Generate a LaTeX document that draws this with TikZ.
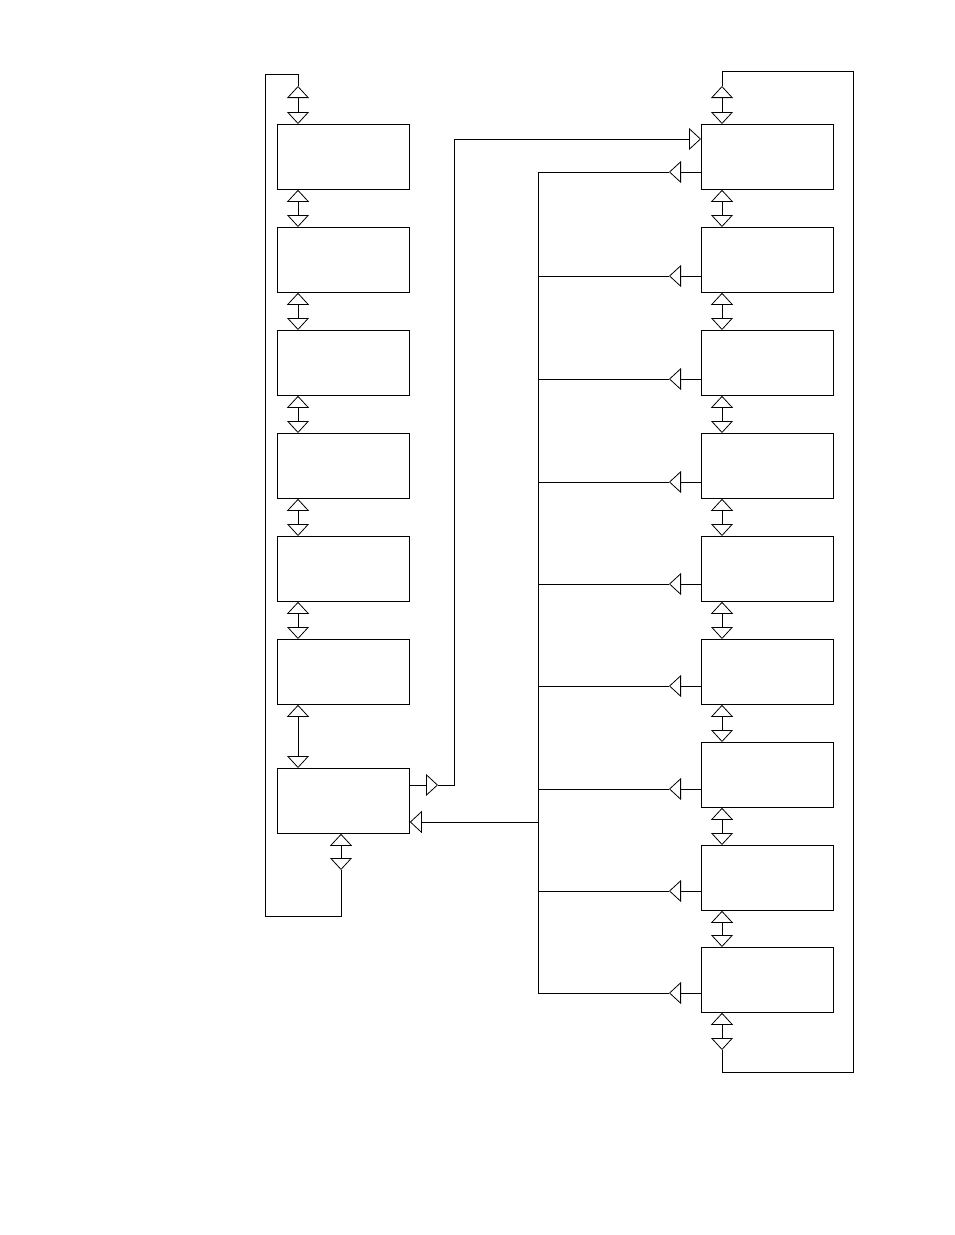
\documentclass[tikz,border=0pt]{standalone}
\usetikzlibrary{arrows.meta}
\begin{document}
\begin{tikzpicture}[x=1pt,y=-1pt,line width=0.8pt,
  box/.style={draw,minimum width=132pt,minimum height=65pt,inner sep=0pt,anchor=north west},
  tri/.style={-{Triangle[open,length=12pt,width=22pt]}},
  dtri/.style={{Triangle[open,length=12pt,width=22pt]}-{Triangle[open,length=12pt,width=22pt]}}]
\useasboundingbox (0,0) rectangle (954,1235);
% left column
\foreach \i/\y in {1/124,2/227,3/330,4/433,5/536,6/639,7/768}
  \node[box] (L\i) at (277,\y) {};
% right column
\foreach \i/\y in {1/124,2/227,3/330,4/433,5/536,6/639,7/742,8/845,9/947}
  \node[box] (R\i) at (701,\y) {};
% chains
\foreach \a/\b in {1/2,2/3,3/4,4/5,5/6,6/7}
  \draw[dtri] (L\a.south west -| 298,0) -- (L\b.north west -| 298,0);
\foreach \a/\b in {1/2,2/3,3/4,4/5,5/6,6/7,7/8,8/9}
  \draw[dtri] (R\a.south west -| 722,0) -- (R\b.north west -| 722,0);
% left loop
\coordinate (lt) at (298,86);
\coordinate (lb) at (341,870);
\draw[dtri] (lt) -- (L1.north west -| 298,0);
\draw (lt) -- (298,74) -- (265,74) -- (265,916) -- (341,916) -- (lb);
\draw[dtri] (L7.south west -| 341,0) -- (lb);
% right loop
\coordinate (rt) at (722,86);
\coordinate (rb) at (722,1050);
\draw[dtri] (rt) -- (R1.north west -| 722,0);
\draw (rt) -- (722,71) -- (853,71) -- (853,1072) -- (722,1072) -- (rb);
\draw[dtri] (R9.south west -| 722,0) -- (rb);
% L7 to R1
\coordinate (oa) at (438,785);
\draw[tri] (L7.east |- 0,785) -- (oa);
\draw (oa) -- (454,785) -- (454,139);
\draw[tri] (454,139) -- (R1.west |- 0,139);
% bus
\draw (538,172) -- (538,993);
\foreach \i/\y in {1/172,2/276,3/379,4/482,5/584,6/686,7/789,8/891,9/993}{
  \coordinate (b\i) at (669,\y);
  \draw[tri] (R\i.west |- 0,\y) -- (b\i);
  \draw (b\i) -- (538,\y);
}
\draw[tri] (538,822) -- (L7.east |- 0,822);
\end{tikzpicture}
\end{document}
